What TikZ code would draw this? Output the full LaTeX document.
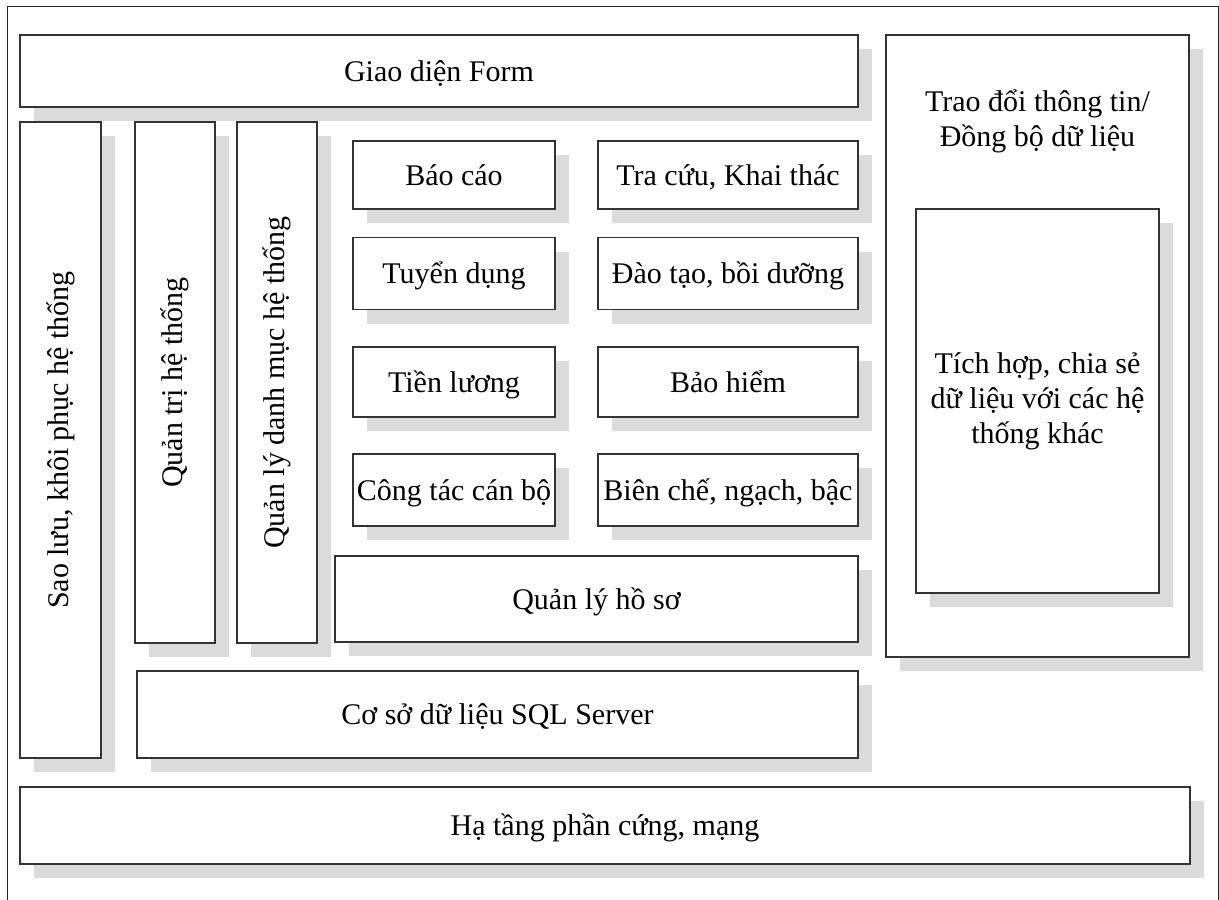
\documentclass[tikz,border=0pt]{standalone}
\usepackage{fontspec}
\setmainfont{Liberation Serif}
\usetikzlibrary{shadows}
\tikzstyle{module}=[rectangle,draw=black!80,line width=1.1pt,fill=white,inner sep=0pt,align=center,font=\fontsize{30}{35}\selectfont,drop shadow={shadow xshift=14pt,shadow yshift=-14pt,fill=black!14,opacity=1}]
\tikzstyle{oneline}=[text height=21pt,text depth=1pt]
\tikzstyle{caption}=[inner sep=0pt,align=center,font=\fontsize{30}{35}\selectfont]

\begin{document}
\begin{tikzpicture}[x=1pt,y=-1pt]
	\useasboundingbox (0,0) rectangle (1219,900);
	\draw[black!85, line width=0.9pt] (7,910) -- (7,6) -- (1218,6) -- (1218,910);
	
	\node[module, oneline, minimum width=838, minimum height=72] (form) at (439, 71) {Giao diện Form};
	\node[module, minimum width=303, minimum height=622] (sync) at (1037.5, 346) {};
	\node[caption] (synctext) at (1037.5, 121) {Trao đổi thông tin/\\Đồng bộ dữ liệu};
	\node[module, minimum width=243, minimum height=384] (share) at (1037.5, 401) {Tích hợp, chia sẻ\\dữ liệu với các hệ\\thống khác};
	
	\node[module, minimum width=81, minimum height=636] (backup) at (60.5, 440) {\rotatebox{90}{Sao lưu, khôi phục hệ thống}};
	\node[module, minimum width=80, minimum height=521] (admin) at (175, 382.5) {\rotatebox{90}{Quản trị hệ thống}};
	\node[module, minimum width=80, minimum height=521] (catalog) at (277, 382.5) {\rotatebox{90}{Quản lý danh mục hệ thống}};
	
	\node[module, oneline, minimum width=202, minimum height=68] (report) at (454, 175) {Báo cáo};
	\node[module, oneline, minimum width=260, minimum height=68] (lookup) at (728, 175) {Tra cứu, Khai thác};
	\node[module, oneline, minimum width=202, minimum height=72] (recruit) at (454, 273.5) {Tuyển dụng};
	\node[module, oneline, minimum width=260, minimum height=72] (training) at (728, 273.5) {Đào tạo, bồi dưỡng};
	\node[module, oneline, minimum width=202, minimum height=70] (salary) at (454, 382) {Tiền lương};
	\node[module, oneline, minimum width=260, minimum height=70] (insurance) at (728, 382) {Bảo hiểm};
	\node[module, oneline, minimum width=202, minimum height=72] (staff) at (454, 490) {Công tác cán bộ};
	\node[module, oneline, minimum width=260, minimum height=72] (grade) at (728, 490) {Biên chế, ngạch, bậc};
	
	\node[module, oneline, minimum width=523, minimum height=86] (records) at (596.5, 599) {Quản lý hồ sơ};
	\node[module, oneline, minimum width=721, minimum height=87] (database) at (497.5, 714.5) {Cơ sở dữ liệu SQL Server};
	\node[module, oneline, minimum width=1170, minimum height=77] (infra) at (605, 825.5) {Hạ tầng phần cứng, mạng};
\end{tikzpicture}
\end{document}
